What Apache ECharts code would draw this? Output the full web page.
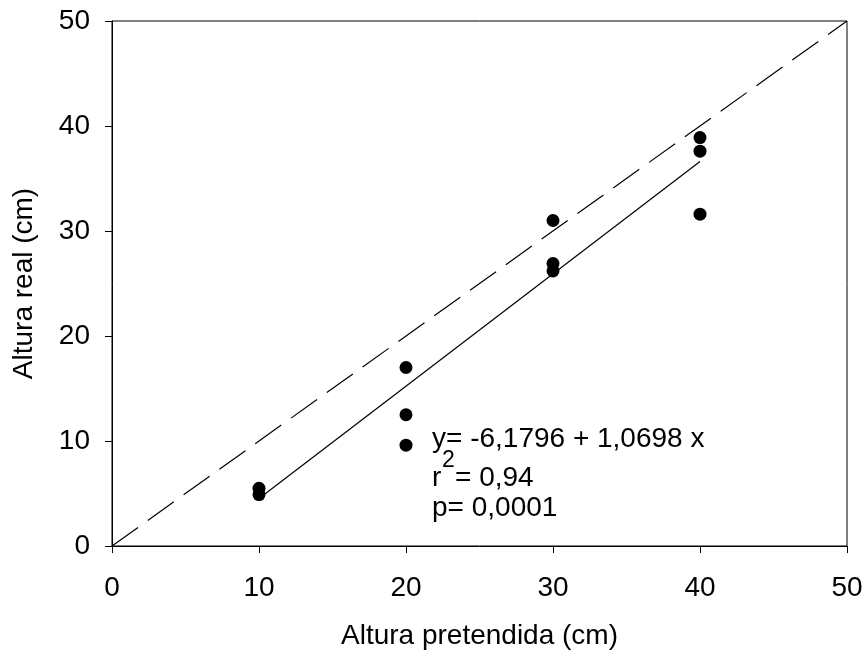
<!DOCTYPE html>
<html><head><meta charset="utf-8">
<script src="https://cdn.jsdelivr.net/npm/echarts@6/dist/echarts.min.js"></script>
<style>html,body{margin:0;padding:0;background:#fff}#c{width:866px;height:655px}</style>
</head><body><div id="c"></div>
<script>
// Data
const pointX = [10, 10, 20, 20, 20, 30, 30, 30, 40, 40, 40];
const pointY = [5.5, 4.9, 17.0, 12.5, 9.6, 31.0, 26.9, 26.2, 38.9, 37.6, 31.6];
const fitX = [10, 40];
const fitY = [4.52, 36.61];
const refX = [0, 50];
const refY = [0, 50];
const xTicks = [0, 10, 20, 30, 40, 50];
const yTicks = [0, 10, 20, 30, 40, 50];
const xTitle = 'Altura pretendida (cm)';
const yTitle = 'Altura real (cm)';
const eqLine = 'y= -6,1796 + 1,0698 x';
const r2Value = '= 0,94';
const pLine = 'p= 0,0001';

const FONT = 'Liberation Sans, Arial, sans-serif';
const FS = 28;
const zip = (a, b) => a.map((v, i) => [v, b[i]]);

const chart = echarts.init(document.getElementById('c'), null, {renderer: 'canvas'});
const axisCommon = {
  type: 'value', min: 0, max: 50, interval: 10,
  axisLine: {show: true, lineStyle: {color: '#000', width: 1}},
  axisTick: {show: true, inside: false, length: 7, lineStyle: {color: '#000', width: 1}},
  splitLine: {show: false},
  nameLocation: 'middle',
  nameTextStyle: {fontFamily: FONT, fontSize: FS, color: '#000'},
  axisLabel: {fontFamily: FONT, fontSize: FS, color: '#000'}
};
chart.setOption({
  animation: false,
  backgroundColor: '#fff',
  grid: {left: 112, right: 19, top: 21, bottom: 105, show: true, borderColor: '#000', borderWidth: 1, containLabel: false},
  xAxis: Object.assign({}, axisCommon, {
    name: xTitle, nameGap: 76,
    axisLabel: Object.assign({}, axisCommon.axisLabel, {margin: 28,
      formatter: v => xTicks.includes(v) ? String(v) : ''})
  }),
  yAxis: Object.assign({}, axisCommon, {
    name: yTitle, nameGap: 74, nameRotate: 90,
    axisLabel: Object.assign({}, axisCommon.axisLabel, {margin: 22,
      formatter: v => yTicks.includes(v) ? String(v) : ''})
  }),
  series: [
    {type: 'line', data: zip(refX, refY), symbol: 'none', silent: true,
     lineStyle: {color: '#000', width: 1.2, type: [32, 12]}},
    {type: 'line', data: zip(fitX, fitY), symbol: 'none', silent: true,
     lineStyle: {color: '#000', width: 1.2}},
    {type: 'scatter', data: zip(pointX, pointY), symbol: 'circle', symbolSize: 13,
     itemStyle: {color: '#000', opacity: 1}}
  ],
  graphic: [
    {type: 'text', left: 432, top: 425, style: {text: eqLine, font: FS + 'px ' + FONT, fill: '#000'}},
    {type: 'text', left: 432, top: 464, style: {text: 'r', font: FS + 'px ' + FONT, fill: '#000'}},
    {type: 'text', left: 442, top: 449, style: {text: '2', font: '23px ' + FONT, fill: '#000'}},
    {type: 'text', left: 455, top: 464, style: {text: r2Value, font: FS + 'px ' + FONT, fill: '#000'}},
    {type: 'text', left: 432, top: 494, style: {text: pLine, font: FS + 'px ' + FONT, fill: '#000'}}
  ]
});
</script></body></html>
